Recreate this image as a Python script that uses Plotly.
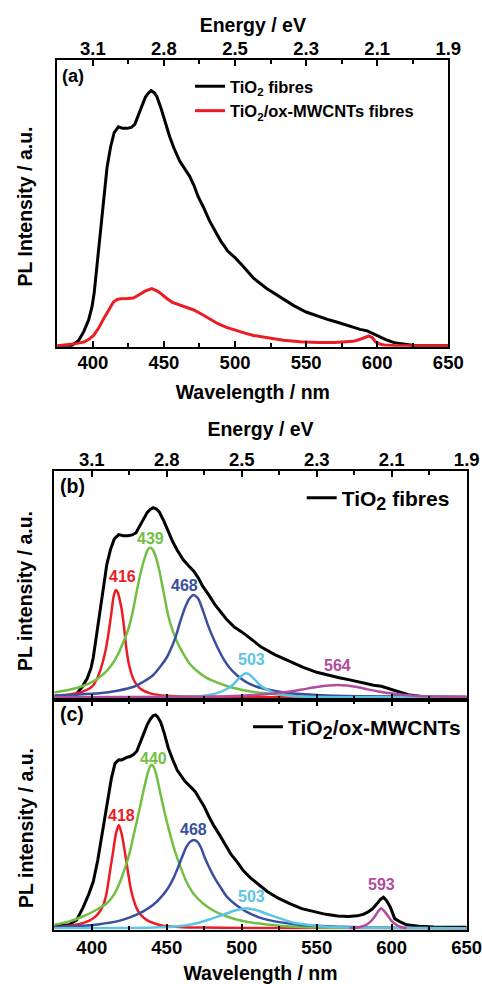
import plotly.graph_objects as go

# ---------------- spectra ----------------
# TiO2 fibres PL spectrum (normalised to its maximum)
wl_tio2 = [375, 385, 390, 393.5, 397, 399.5, 401, 403, 405, 407.5, 410, 412.5, 415, 418, 421, 424,
           427, 429.5, 432, 434.5, 437, 439, 441, 443, 445, 448, 451, 454, 457, 461, 465, 468, 471,
           474, 478, 482, 486, 490, 495, 500, 505, 513, 522, 532, 541, 550, 558, 565, 572, 581, 588,
           593, 597, 601, 606, 612, 620, 626, 650]
pl_tio2 = [0.0, 0.0, 0.02, 0.054, 0.10, 0.155, 0.21, 0.32, 0.44, 0.59, 0.70, 0.78, 0.835, 0.858,
           0.852, 0.852, 0.856, 0.868, 0.905, 0.945, 0.975, 0.99, 1.0, 0.993, 0.977, 0.93, 0.87, 0.82,
           0.775, 0.725, 0.69, 0.665, 0.63, 0.585, 0.54, 0.49, 0.45, 0.41, 0.37, 0.345, 0.315, 0.265,
           0.225, 0.188, 0.158, 0.132, 0.115, 0.103, 0.092, 0.075, 0.064, 0.058, 0.048, 0.036, 0.024,
           0.012, 0.005, 0.001, 0.0]

# TiO2/ox-MWCNTs fibres PL spectrum on the same intensity scale as TiO2 fibres
wl_cnt_a = [375, 382, 388, 393.5, 397, 400.5, 404, 407.5, 411, 414.5, 417, 419.5, 424, 428.5, 431,
            433.5, 437, 441.5, 445, 448, 452, 456, 461, 466, 471, 476, 482, 488, 494, 500, 507, 513,
            523, 534, 546, 558, 570, 578, 583, 587, 590.5, 594, 596.5, 599, 602, 605, 612, 650]
pl_cnt_a = [0.0, 0.004, 0.008, 0.014, 0.024, 0.04, 0.068, 0.105, 0.14, 0.171, 0.181, 0.184, 0.185,
            0.187, 0.195, 0.204, 0.215, 0.224, 0.215, 0.204, 0.185, 0.17, 0.16, 0.152, 0.14, 0.125,
            0.105, 0.086, 0.072, 0.06, 0.049, 0.04, 0.03, 0.021, 0.015, 0.012, 0.012, 0.014, 0.017,
            0.023, 0.030, 0.038, 0.032, 0.014, 0.006, 0.003, 0.001, 0.0]

# TiO2/ox-MWCNTs spectrum normalised to its own maximum
wl_cnt = [375, 385, 390, 394, 398, 401, 404, 406.5, 409, 411, 413, 415.5, 418, 420, 423, 425.5, 428,
          430, 432, 434.5, 437, 439, 441, 442.5, 444, 446, 448.5, 451, 454, 457, 462, 466, 469, 472,
          475, 478, 481, 485, 489, 493, 497, 501, 506, 511, 517, 524, 532, 540, 548, 556, 564, 571,
          577, 581, 584, 587, 590, 592.5, 594.5, 596.5, 599, 602, 606, 610, 618, 628, 650]
pl_cnt = [0.008, 0.016, 0.04, 0.094, 0.16, 0.219, 0.32, 0.422, 0.53, 0.625, 0.70, 0.773, 0.79, 0.789,
          0.80, 0.805, 0.815, 0.83, 0.87, 0.91, 0.955, 0.98, 0.997, 1.0, 0.99, 0.965, 0.91, 0.845,
          0.79, 0.74, 0.69, 0.66, 0.64, 0.605, 0.57, 0.525, 0.485, 0.44, 0.39, 0.345, 0.31, 0.27,
          0.235, 0.205, 0.172, 0.142, 0.115, 0.092, 0.077, 0.065, 0.057, 0.055, 0.058, 0.065, 0.075,
          0.09, 0.113, 0.135, 0.145, 0.13, 0.10, 0.045, 0.028, 0.016, 0.009, 0.006, 0.005]

# ---------------- fitted components ----------------
b_centres = [416, 439, 468, 503, 564]
b_wl = [
    [375, 385, 394, 400, 403, 406, 409, 411, 413, 414.5, 416, 417.5, 419, 420, 421.5, 423, 425, 427.5,
     430, 433, 439, 450, 470, 500, 650],
    [375, 385, 394, 400, 405, 410, 414, 418, 421, 424, 427, 430, 433, 435.5, 437.5, 439, 440.5, 442.5,
     445, 448, 451, 454, 457, 461, 465, 470, 476, 483, 490, 497, 505, 516, 528, 550, 580, 650],
    [375, 390, 405, 417, 428, 435, 441, 446, 450, 453, 456, 459, 462, 465, 468, 471, 474, 477, 480,
     484, 488, 492, 497, 503, 510, 518, 528, 545, 561, 594, 650],
    [375, 450, 468, 476, 483, 489, 494, 497.5, 500.5, 503, 505.5, 508.5, 512, 517, 523, 530, 539,
     560, 650],
    [375, 450, 483, 500, 516, 530, 540, 550, 558, 564, 570, 577, 584, 592, 600, 606, 615, 628, 650],
]
b_pl = [
    [0.008, 0.015, 0.03, 0.055, 0.09, 0.15, 0.24, 0.33, 0.44, 0.53, 0.566, 0.55, 0.50, 0.46, 0.37,
     0.26, 0.165, 0.10, 0.065, 0.042, 0.021, 0.008, 0.003, 0.001, 0.0],
    [0.025, 0.04, 0.06, 0.08, 0.105, 0.14, 0.18, 0.235, 0.29, 0.35, 0.44, 0.56, 0.67, 0.74, 0.78,
     0.789, 0.78, 0.745, 0.67, 0.55, 0.43, 0.35, 0.29, 0.23, 0.18, 0.14, 0.105, 0.08, 0.06, 0.045,
     0.032, 0.021, 0.013, 0.007, 0.004, 0.001],
    [0.009, 0.014, 0.021, 0.035, 0.056, 0.085, 0.118, 0.165, 0.21, 0.26, 0.32, 0.40, 0.47, 0.52,
     0.54, 0.52, 0.46, 0.39, 0.33, 0.26, 0.20, 0.155, 0.115, 0.08, 0.056, 0.04, 0.026, 0.015, 0.009,
     0.004, 0.002],
    [0.0, 0.002, 0.004, 0.01, 0.021, 0.04, 0.065, 0.095, 0.118, 0.127, 0.118, 0.095, 0.065, 0.04,
     0.021, 0.01, 0.004, 0.001, 0.0],
    [0.0, 0.002, 0.004, 0.009, 0.016, 0.028, 0.041, 0.054, 0.062, 0.065, 0.062, 0.054, 0.042, 0.03,
     0.021, 0.015, 0.009, 0.005, 0.002],
]

c_centres = [418, 440, 468, 503, 593]
c_wl = [
    [375, 385, 392, 398, 402, 405, 408, 410, 412, 414, 416, 418, 420, 422, 424, 426, 428, 430, 433,
     437, 442, 448, 460, 472, 500, 650],
    [375, 385, 394, 402, 410, 415, 419, 422.5, 425.5, 428, 430, 432.5, 434.5, 437, 439, 440, 441, 443,
     445.5, 448, 450, 453, 455.5, 459, 463, 468, 474, 481, 490, 500, 510, 525, 539, 570, 650],
    [375, 394, 405, 416, 425, 434, 441, 446.5, 451, 454.5, 457.5, 460, 463, 465.5, 468, 470.5, 473,
     475.5, 479, 482, 486, 490, 496, 503, 512, 523, 535, 550, 583, 650],
    [375, 430, 445, 456, 465, 472, 480, 488, 495, 503, 511, 518, 526, 534, 544, 554, 570, 600, 650],
    [572, 576.5, 580, 583, 586, 589, 591, 593, 595, 597.5, 600, 603, 606, 610],
]
c_pl = [
    [0.005, 0.012, 0.02, 0.034, 0.052, 0.075, 0.115, 0.17, 0.26, 0.35, 0.44, 0.484, 0.44, 0.36, 0.27,
     0.185, 0.13, 0.092, 0.06, 0.037, 0.022, 0.011, 0.005, 0.003, 0.001, 0.0],
    [0.016, 0.032, 0.055, 0.082, 0.117, 0.16, 0.22, 0.29, 0.36, 0.44, 0.5, 0.58, 0.645, 0.72, 0.76,
     0.766, 0.76, 0.72, 0.64, 0.56, 0.5, 0.42, 0.36, 0.29, 0.22, 0.16, 0.117, 0.083, 0.055, 0.035,
     0.023, 0.012, 0.006, 0.002, 0.0],
    [0.003, 0.011, 0.019, 0.031, 0.05, 0.078, 0.11, 0.148, 0.19, 0.235, 0.285, 0.33, 0.38, 0.405,
     0.414, 0.405, 0.375, 0.328, 0.275, 0.235, 0.19, 0.148, 0.11, 0.078, 0.05, 0.031, 0.019, 0.011,
     0.003, 0.0],
    [0.0, 0.001, 0.004, 0.008, 0.016, 0.027, 0.045, 0.064, 0.082, 0.094, 0.082, 0.064, 0.045, 0.027,
     0.016, 0.008, 0.003, 0.001, 0.0],
    [0.0, 0.002, 0.008, 0.016, 0.032, 0.057, 0.08, 0.094, 0.08, 0.057, 0.033, 0.016, 0.006, 0.0],
]

# wavelength ticks; the top axes show the photon energy E = 1240 / lambda at the same positions
tick_wl = [400, 450, 500, 550, 600, 650]
minor_wl = [425, 475, 525, 575, 625]
tick_ev = [f"{1240 / w:.1f}" for w in tick_wl]

# ---------------- styling ----------------
W, H = 482, 984
FONT = "Liberation Sans, Arial, sans-serif"
COMP_COLOURS = ["#ED1C24", "#72BF44", "#3A4FA0", "#5BC5E5", "#B24C9E"]
RED = "#ED1C24"

def px_x(p):
    return p / W

def px_y(p):
    return 1 - p / H

dom_a_x = [px_x(57.3), px_x(448.3)]
dom_a_y = [px_y(346.7), px_y(60)]
dom_bc_x = [px_x(54.3), px_x(466.7)]
dom_b_y = [px_y(700), px_y(471)]
dom_c_y = [px_y(929.5), px_y(700)]

tickfont = dict(family=FONT, size=18.5, color="black", weight="bold")
titlefont = dict(family=FONT, size=19.5, color="black", weight="bold")

def x_axis(**kw):
    base = dict(range=[375, 650], showline=True, linecolor="black", linewidth=2,
                ticks="inside", ticklen=6, tickwidth=2, tickcolor="black",
                tickmode="array", tickvals=tick_wl, ticklabeloverflow="allow",
                minor=dict(ticks="inside", ticklen=4, tickwidth=2, tickcolor="black",
                           tickmode="array", tickvals=minor_wl),
                showgrid=False, zeroline=False, automargin=False, tickfont=tickfont)
    base.update(kw)
    return base

def y_axis(**kw):
    base = dict(showline=True, linecolor="black", linewidth=2, mirror=True, ticks="",
                showticklabels=False, showgrid=False, zeroline=False, automargin=False)
    base.update(kw)
    return base

fig = go.Figure()

# (a) both spectra
fig.add_trace(go.Scatter(x=wl_tio2, y=pl_tio2, mode="lines", name="TiO<sub>2</sub> fibres",
                         line=dict(color="black", width=3), xaxis="x", yaxis="y", legend="legend"))
fig.add_trace(go.Scatter(x=wl_cnt_a, y=pl_cnt_a, mode="lines",
                         name="TiO<sub>2</sub>/ox-MWCNTs fibres",
                         line=dict(color=RED, width=3), xaxis="x", yaxis="y", legend="legend"))

# (b) TiO2 fibres with its fitted components
big2 = "<sub><span style='font-size:18px'>2</span></sub>"
fig.add_trace(go.Scatter(x=wl_tio2, y=pl_tio2, mode="lines", name=f"TiO{big2} fibres",
                         line=dict(color="black", width=3), xaxis="x3", yaxis="y2", legend="legend2"))
for wl, pl, col in zip(b_wl, b_pl, COMP_COLOURS):
    fig.add_trace(go.Scatter(x=wl, y=pl, mode="lines", showlegend=False,
                             line=dict(color=col, width=2.5, shape="spline", smoothing=0.6),
                             xaxis="x3", yaxis="y2"))

# (c) TiO2/ox-MWCNTs with its fitted components
fig.add_trace(go.Scatter(x=wl_cnt, y=pl_cnt, mode="lines", name=f"TiO{big2}/ox-MWCNTs",
                         line=dict(color="black", width=3), xaxis="x5", yaxis="y3", legend="legend3"))
for wl, pl, col in zip(c_wl, c_pl, COMP_COLOURS):
    fig.add_trace(go.Scatter(x=wl, y=pl, mode="lines", showlegend=False,
                             line=dict(color=col, width=2.5, shape="spline", smoothing=0.6),
                             xaxis="x5", yaxis="y3"))

# empty traces so that the energy (top) axes get drawn
for xa, ya in [("x2", "y"), ("x4", "y2")]:
    fig.add_trace(go.Scatter(x=tick_wl, y=[None] * len(tick_wl), mode="lines", showlegend=False,
                             hoverinfo="skip", xaxis=xa, yaxis=ya))

# peak-position labels above each component maximum
label_offsets_b = [(7, 13), (0, 9), (-9, 9), (5, 14), (0, 20)]
label_offsets_c = [(3, 9), (2, 6), (0, 10), (5, 12), (0, 24)]
annotations = []
for centres, pls, offs, xr, yr in [(b_centres, b_pl, label_offsets_b, "x3", "y2"),
                                   (c_centres, c_pl, label_offsets_c, "x5", "y3")]:
    for centre, pl, col, (dx, dy) in zip(centres, pls, COMP_COLOURS, offs):
        annotations.append(dict(x=centre, y=max(pl), xref=xr, yref=yr, text=str(centre),
                                showarrow=False, xanchor="center", yanchor="middle",
                                xshift=dx, yshift=dy,
                                font=dict(family=FONT, size=16, color=col, weight="bold")))

# panel letters
for letter, xp, yp, size in [("(a)", 60, 76, 18), ("(b)", 58, 486, 19.5), ("(c)", 58, 714, 19.5)]:
    annotations.append(dict(x=px_x(xp), y=px_y(yp), xref="paper", yref="paper", text=letter,
                            showarrow=False, xanchor="left", yanchor="middle",
                            font=dict(family=FONT, size=size, color="black", weight="bold")))

# y-axis titles
for txt, xp, yp in [("PL Intensity / a.u.", 24.5, 207), ("PL intensity / a.u.", 25, 591),
                    ("PL intensity / a.u.", 26, 828)]:
    annotations.append(dict(x=px_x(xp), y=px_y(yp), xref="paper", yref="paper", text=txt,
                            textangle=-90, showarrow=False, xanchor="center", yanchor="middle",
                            font=titlefont))

fig.update_layout(
    width=W, height=H, margin=dict(l=0, r=0, t=0, b=0),
    paper_bgcolor="white", plot_bgcolor="white",
    font=dict(family=FONT, color="black"),
    xaxis=x_axis(domain=dom_a_x, anchor="y", mirror=True, ticklabelstandoff=-2,
                 title=dict(text="Wavelength / nm", font=titlefont, standoff=13)),
    xaxis2=x_axis(domain=dom_a_x, anchor="y", overlaying="x", side="top", showline=False,
                  ticktext=tick_ev, title=dict(text="Energy / eV", font=titlefont, standoff=0)),
    yaxis=y_axis(domain=dom_a_y, anchor="x", range=[-0.004, 1.12]),
    xaxis3=x_axis(domain=dom_bc_x, anchor="y2", mirror=True, showticklabels=False),
    xaxis4=x_axis(domain=dom_bc_x, anchor="y2", overlaying="x3", side="top", showline=False,
                  ticktext=tick_ev, title=dict(text="Energy / eV", font=titlefont, standoff=7)),
    yaxis2=y_axis(domain=dom_b_y, anchor="x3", range=[-0.014, 1.193]),
    xaxis5=x_axis(domain=dom_bc_x, anchor="y3", mirror="ticks",
                  title=dict(text="Wavelength / nm", font=titlefont, standoff=11)),
    yaxis3=y_axis(domain=dom_c_y, anchor="x5", range=[-0.006, 1.07]),
    legend=dict(x=px_x(190), y=px_y(69), xanchor="left", yanchor="top",
                bgcolor="rgba(0,0,0,0)", font=dict(family=FONT, size=16.5, color="black",
                                                   weight="bold")),
    legend2=dict(x=px_x(301.7), y=px_y(498), xanchor="left", yanchor="middle",
                 bgcolor="rgba(0,0,0,0)", font=dict(family=FONT, size=21, color="black",
                                                    weight="bold")),
    legend3=dict(x=px_x(248), y=px_y(727), xanchor="left", yanchor="middle",
                 bgcolor="rgba(0,0,0,0)", font=dict(family=FONT, size=21, color="black",
                                                    weight="bold")),
    annotations=annotations,
)

fig.write_html("out.html")
